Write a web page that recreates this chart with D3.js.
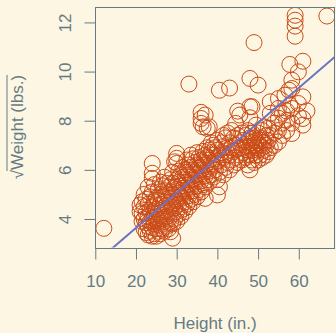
<!DOCTYPE html>
<html><head><meta charset="utf-8">
<script src="https://cdn.jsdelivr.net/npm/d3@7/dist/d3.min.js"></script>
<style>html,body{margin:0;padding:0;background:#fdf6e3;}svg{display:block;}</style>
</head><body>
<script>
// Data (height in inches, sqrt of weight in lbs)
const height = [
21.0,21.0, 21.5,21.5,21.5, 22.0,22.0,22.0,22.0, 22.5,22.5,22.5,22.5,
23.0,23.0,23.0,23.0,23.0, 23.5,23.5,23.5,23.5, 24.0,24.0,24.0,24.0,24.0,24.0,24.0,24.0,
24.5,24.5,24.5,24.5,24.5, 25.0,25.0,25.0,25.0,25.0, 25.5,25.5,25.5,25.5,25.5,
26.0,26.0,26.0,26.0,26.0,26.0, 26.5,26.5,26.5,26.5,26.5, 27.0,27.0,27.0,27.0,27.0,27.0,
27.5,27.5,27.5,27.5,27.5, 28.0,28.0,28.0,28.0,28.0, 28.5,28.5,28.5,28.5,28.5,28.5,
29.0,29.0,29.0,29.0,29.0,29.0,29.0, 29.5,29.5,29.5,29.5,29.5, 30.0,30.0,30.0,30.0,30.0,30.0,30.0,30.0,
30.5,30.5,30.5,30.5,30.5, 31.0,31.0,31.0,31.0,31.0, 31.5,31.5,31.5,31.5,31.5, 32.0,32.0,32.0,32.0,32.0,
32.5,32.5,32.5,32.5,32.5, 33.0,33.0,33.0,33.0,33.0,33.0, 33.5,33.5,33.5,33.5,33.5, 34.0,34.0,34.0,34.0,34.0,
34.5,34.5,34.5,34.5, 35.0,35.0,35.0,35.0,35.0, 35.5,35.5,35.5,35.5, 36.0,36.0,36.0,36.0,36.0,36.0,36.0,
36.5,36.5,36.5,36.5,36.5, 37.0,37.0,37.0,37.0,37.0,37.0, 37.5,37.5,37.5,37.5,37.5, 38.0,38.0,38.0,38.0,38.0,
38.5,38.5,38.5,38.5, 39.0,39.0,39.0,39.0, 39.5,39.5,39.5, 40.0,40.0,40.0,40.0,40.0, 40.5,40.5,40.5,40.5,
41.0,41.0,41.0, 41.5,41.5,41.5,41.5, 42.0,42.0,42.0, 42.5,42.5,42.5, 43.0,43.0,43.0,43.0, 43.5,43.5,43.5,
44.0,44.0,44.0, 44.5,44.5,44.5, 45.0,45.0,45.0,45.0, 45.5,45.5,45.5, 46.0,46.0,46.0, 46.5,46.5,
47.0,47.0,47.0, 47.5,47.5,47.5,47.5, 48.0,48.0,48.0,48.0,48.0,48.0,48.0, 48.5,48.5,48.5,48.5,48.5,
49.0,49.0,49.0,49.0,49.0, 49.5,49.5,49.5,49.5, 50.0,50.0,50.0,50.0,50.0, 50.5,50.5,50.5, 51.0,51.0,51.0,51.0,
51.5,51.5,51.5, 52.0,52.0,52.0, 52.5,52.5,52.5, 53.0,53.0,53.0,53.0, 54.0,54.0,54.0, 55.0,55.0,55.0,55.0,55.0,
56.0,56.0,56.0, 56.6, 57.0,57.0,57.0, 57.8,57.8, 58.3,58.3,58.3,58.3,58.3, 59.1,59.1,59.1,59.1,
59.9,59.9,59.9, 61.0,61.0,61.0,61.0, 62.0, 66.9, 12.1, 57.6
];
const sqrtWeight = [
4.57,4.3, 4.23,3.9,4.7, 3.6,4.0,4.5,5.0, 3.45,3.85,4.25,4.8,
3.35,3.7,4.1,4.6,5.3, 3.5,3.9,4.35,4.9, 3.3,3.65,4.05,4.5,5.1,5.65,5.86,6.26,
3.4,3.8,4.2,4.7,5.4, 3.3,3.6,4.0,4.4,4.85, 3.5,3.9,4.3,4.75,5.2,
3.4,3.75,4.15,4.6,5.0,5.5, 3.6,4.0,4.45,4.9,5.35, 3.5,3.9,4.3,4.7,5.15,5.7,
3.7,4.1,4.55,5.0,5.45, 3.6,4.0,4.4,4.85,5.3, 3.48,3.9,4.3,4.7,5.1,5.6,
3.22,3.8,4.2,4.6,5.0,5.45,5.9, 4.0,4.45,4.9,5.3,6.33, 3.9,4.3,4.75,5.2,5.6,6.47,6.67,6.26,
4.2,4.6,5.05,5.5,5.95, 4.1,4.5,4.95,5.35,5.8, 4.4,4.85,5.25,5.7,6.1, 4.3,4.7,5.15,5.6,6.0,
4.6,5.05,5.5,5.9,6.4, 4.5,4.95,5.4,5.8,6.2,9.49, 4.8,5.25,5.7,6.1,6.6, 4.7,5.15,5.6,6.0,6.45,
5.0,5.45,5.9,6.3, 4.9,5.35,5.8,6.2,6.7, 5.2,5.65,6.1,6.5, 5.1,5.55,6.0,6.4,7.89,8.09,8.34,
5.4,5.85,6.3,6.75,7.75, 4.84,5.3,5.75,6.2,6.6,8.23, 5.6,6.05,6.5,6.9,7.69, 5.5,5.95,6.4,6.8,7.75,
5.8,6.25,6.7,7.1, 5.7,6.15,6.6,7.0, 6.0,6.45,6.9, 4.98,5.6,6.35,6.8,7.2, 5.31,5.9,6.6,9.24,
6.2,6.7,7.1, 5.8,6.5,6.95,7.4, 6.1,6.6,7.3, 6.3,6.9,7.5, 6.0,6.6,7.1,9.33, 6.4,6.9,7.6,
6.2,6.75,7.3, 6.5,7.0,7.89, 6.3,6.85,7.4,8.39, 6.6,7.1,8.23, 6.4,6.9,7.5, 6.7,7.2,
6.5,6.95,7.4, 6.2,6.8,7.15,7.6, 6.0,6.6,6.95,7.3,8.12,8.57,9.72, 6.4,6.8,7.1,7.5,8.57,
6.3,6.7,7.0,7.3,11.18, 6.6,6.9,7.2,7.82, 6.4,6.8,7.1,7.5,9.45, 6.6,7.0,7.3, 6.5,6.9,7.2,7.6,
6.8,7.1,7.75, 6.6,7.0,7.4, 6.74,7.2,7.7, 6.9,7.4,8.3,8.77, 7.0,7.5,7.9, 7.14,7.6,8.1,8.5,8.9,
7.4,7.9,8.3, 9.04, 7.6,8.02,8.4, 8.63,10.29, 7.48,7.9,8.5,9.31,9.65, 12.29,12.09,11.85,11.44,
8.2,8.7,9.99, 7.82,8.09,8.97,10.42, 8.4, 12.26, 3.62, 9.24
];
const fitCoef = [0.79, 0.1424]; // intercept, slope
const xTicks = [10, 20, 30, 40, 50, 60];
const yTicks = [4, 6, 8, 10, 12];
const xLabel = "Height (in.)";
const yLabel = "Weight (lbs.)";

const W = 336, H = 333;
const L = 95, R = 335, T = 6.7, B = 247.5;
const axisCol = "#657b83", textCol = "#657b83";
const svg = d3.select("body").append("svg").attr("width", W).attr("height", H)
  .style("font-family", "'Liberation Sans', Arial, Helvetica, sans-serif");
svg.append("rect").attr("width", W).attr("height", H).attr("fill", "#fdf6e3");

const x = d3.scaleLinear().domain([9.93, 68.9]).range([L, R]);
const y = d3.scaleLinear().domain([2.84, 12.64]).range([B, T]);

svg.append("defs").append("clipPath").attr("id", "clip")
  .append("rect").attr("x", L).attr("y", T).attr("width", R - L).attr("height", B - T);

const plot = svg.append("g").attr("clip-path", "url(#clip)");
const pts = height.map((h, i) => ({h, w: sqrtWeight[i]}));
plot.selectAll("circle").data(pts).enter().append("circle")
  .attr("cx", d => x(d.h)).attr("cy", d => y(d.w)).attr("r", 8)
  .attr("fill", "none").attr("stroke", "#cb4b16").attr("stroke-width", 1);

const xd = x.domain();
plot.append("line")
  .attr("x1", x(xd[0])).attr("y1", y(fitCoef[0] + fitCoef[1] * xd[0]))
  .attr("x2", x(xd[1])).attr("y2", y(fitCoef[0] + fitCoef[1] * xd[1]))
  .attr("stroke", "#6c71c4").attr("stroke-width", 2);

// box
svg.append("rect").attr("x", L + 0.5).attr("y", Math.round(T) + 0.5)
  .attr("width", R - L - 1).attr("height", Math.round(B) - Math.round(T))
  .attr("fill", "none").attr("stroke", axisCol).attr("stroke-width", 1);

// x axis
const xAxis = d3.axisBottom(x).tickValues(xTicks).tickSize(11).tickPadding(5).tickSizeOuter(0);
const gx = svg.append("g").attr("transform", `translate(0,${Math.round(B) + 0.5})`).call(xAxis);
gx.select(".domain").remove();
gx.selectAll("line").attr("stroke", axisCol);
gx.selectAll("text").attr("fill", textCol).attr("font-size", 17).attr("dy", null).attr("y", 40 - 0.5 - 0);
gx.selectAll("text").attr("y", 287 - Math.round(B) - 0.5).attr("dominant-baseline", "alphabetic");

// y axis
const yAxis = d3.axisLeft(y).tickValues(yTicks).tickSize(11).tickSizeOuter(0);
const gy = svg.append("g").attr("transform", `translate(${L + 0.5},0)`).call(yAxis);
gy.select(".domain").remove();
gy.selectAll("line").attr("stroke", axisCol);
gy.selectAll("text").attr("fill", textCol).attr("font-size", 17)
  .attr("x", null).attr("dy", null).attr("text-anchor", "middle")
  .attr("transform", function() { return `translate(${71 - L - 0.5},0) rotate(-90)`; });

// x label
svg.append("text").attr("x", (L + R) / 2).attr("y", 329).attr("text-anchor", "middle")
  .attr("fill", textCol).attr("font-size", 17).text(xLabel);

// y label with radical
const yl = svg.append("g").attr("transform", `translate(23,${(T + B) / 2}) rotate(-90)`);
const yt = yl.append("text").attr("text-anchor", "middle").attr("fill", textCol).attr("font-size", 17);
yt.append("tspan").text("\u221A");
const rest = yt.append("tspan").text(yLabel);
const bb = yt.node().getBBox();
const restLen = rest.node().getComputedTextLength();
yl.append("line").attr("x1", bb.x + bb.width - restLen - 1).attr("x2", bb.x + bb.width)
  .attr("y1", -16).attr("y2", -16).attr("stroke", textCol).attr("stroke-width", 1);
</script>
</body></html>
